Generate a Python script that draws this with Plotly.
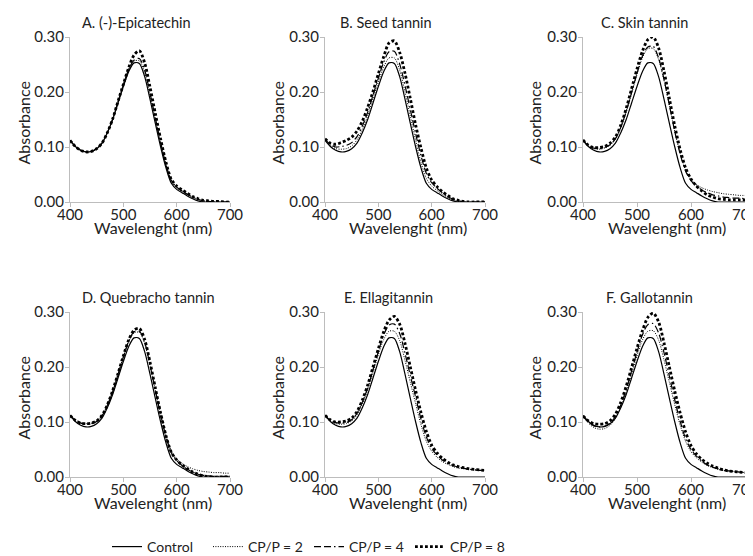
import plotly.graph_objects as go

# ---------------- data ----------------
WAVELENGTH = [400, 410, 420, 430, 440, 450, 460, 470, 480, 490, 500, 510, 520, 530, 540, 550,
              560, 570, 580, 590, 600, 610, 620, 630, 640, 650, 660, 670, 680, 690, 700]

PANEL_TITLES = ["A. (-)-Epicatechin", "B. Seed tannin", "C. Skin tannin",
                "D. Quebracho tannin", "E. Ellagitannin", "F. Gallotannin"]
SERIES_NAMES = ["Control", "CP/P = 2", "CP/P = 4", "CP/P = 8"]
X_TICKS = [400, 500, 600, 700]
Y_TICKS = [0.0, 0.1, 0.2, 0.3]

CONTROL = [.112, .101, .094, .091, .092, .097, .107, .126, .150, .180, .210, .237, .253, .252, .228, .187,
           .143, .100, .062, .034, .023, .017, .011, .006, .002, 0, 0, 0, 0, 0, 0]

A_P2 = [.112, .101, .094, .091, .092, .097, .107, .126, .151, .182, .213, .240, .256, .257, .235, .194,
        .150, .106, .067, .038, .026, .019, .013, .008, .004, .002, .001, 0, 0, 0, 0]
A_P4 = [.112, .101, .094, .091, .092, .097, .107, .126, .151, .182, .213, .241, .258, .261, .240, .198,
        .153, .108, .068, .039, .027, .020, .014, .009, .005, .002, .001, 0, 0, 0, 0]
A_P8 = [.112, .101, .094, .091, .092, .097, .107, .126, .151, .183, .214, .244, .267, .275, .253, .209,
        .161, .114, .072, .041, .029, .022, .016, .010, .006, .003, .002, .001, .001, 0, 0]

B_P2 = [.113, .103, .097, .096, .097, .102, .113, .132, .157, .188, .218, .245, .262, .262, .240, .200,
        .156, .112, .072, .043, .029, .021, .014, .008, .004, .001, 0, 0, 0, 0, 0]
B_P4 = [.114, .105, .100, .101, .103, .108, .119, .138, .163, .194, .225, .254, .273, .274, .251, .212,
        .168, .124, .084, .052, .035, .025, .017, .010, .005, .002, .001, 0, 0, 0, 0]
B_P8 = [.115, .107, .105, .108, .112, .118, .129, .147, .172, .201, .233, .264, .289, .293, .272, .234,
        .188, .140, .098, .062, .040, .028, .019, .012, .006, .003, .001, 0, 0, 0, 0]

C_P2 = [.112, .102, .097, .096, .098, .103, .114, .135, .163, .197, .232, .262, .279, .279, .259, .221,
        .175, .128, .088, .058, .041, .032, .026, .022, .019, .017, .015, .014, .013, .012, .012]
C_P4 = [.112, .102, .098, .097, .099, .104, .115, .136, .165, .199, .234, .265, .282, .283, .262, .223,
        .176, .128, .087, .056, .039, .029, .022, .017, .013, .011, .009, .008, .007, .007, .006]
C_P8 = [.113, .103, .099, .099, .101, .107, .118, .140, .170, .206, .242, .274, .295, .300, .280, .238,
        .188, .138, .095, .062, .042, .029, .020, .013, .009, .006, .005, .004, .004, .004, .004]

D_P2 = [.113, .104, .099, .097, .098, .102, .112, .131, .156, .187, .218, .246, .262, .263, .243, .203,
        .158, .115, .076, .047, .033, .025, .019, .015, .012, .010, .009, .008, .008, .007, .007]
D_P4 = [.112, .103, .098, .096, .097, .101, .111, .130, .155, .186, .218, .247, .264, .265, .245, .204,
        .158, .113, .073, .044, .030, .021, .014, .009, .005, .003, .002, .001, .001, .001, .001]
D_P8 = [.112, .103, .098, .097, .098, .102, .112, .131, .157, .188, .220, .249, .267, .270, .250, .209,
        .162, .116, .075, .045, .031, .022, .015, .009, .005, .002, .001, 0, 0, 0, 0]

E_P2 = [.112, .102, .097, .096, .097, .102, .113, .133, .158, .190, .222, .250, .265, .265, .248, .212,
        .172, .133, .095, .065, .047, .036, .028, .023, .019, .016, .015, .014, .013, .012, .012]
E_P4 = [.112, .103, .099, .098, .099, .104, .116, .136, .162, .195, .228, .258, .276, .278, .261, .225,
        .184, .145, .105, .073, .052, .040, .031, .025, .021, .018, .016, .014, .013, .012, .012]
E_P8 = [.112, .104, .100, .100, .102, .107, .119, .140, .167, .200, .233, .264, .285, .292, .278, .243,
        .200, .157, .117, .083, .058, .044, .034, .027, .022, .019, .017, .015, .014, .013, .012]

F_P2 = [.110, .098, .090, .087, .088, .094, .106, .127, .154, .187, .220, .249, .265, .266, .249, .213,
        .172, .131, .094, .065, .046, .035, .027, .021, .017, .014, .012, .011, .010, .009, .008]
F_P4 = [.111, .100, .093, .091, .092, .098, .110, .131, .159, .193, .227, .258, .277, .279, .262, .226,
        .183, .140, .101, .070, .050, .038, .029, .022, .018, .015, .012, .011, .010, .009, .008]
F_P8 = [.111, .102, .097, .096, .097, .102, .114, .136, .165, .199, .234, .266, .290, .298, .282, .244,
        .200, .156, .116, .082, .057, .042, .032, .025, .020, .016, .013, .011, .010, .009, .008]

PANELS = [
    [CONTROL, A_P2, A_P4, A_P8],
    [CONTROL, B_P2, B_P4, B_P8],
    [CONTROL, C_P2, C_P4, C_P8],
    [CONTROL, D_P2, D_P4, D_P8],
    [CONTROL, E_P2, E_P4, E_P8],
    [CONTROL, F_P2, F_P4, F_P8],
]

# ---------------- layout helpers ----------------
OFF = 8                      # page body margin of the browser
W, H = 753 - OFF, 556 - OFF  # figure size so it ends at the window edge
FONT = "Lato, 'Open Sans', sans-serif"
TXT = "#222222"
AXC = "#bdbdbd"

# plot-area pixel boxes in window coordinates (left, right, top, bottom)
COLS = [(70, 230), (325, 485), (583, 745)]
ROWS = [(37, 202), (312, 477)]
TITLE_POS = [(136, 22), (386, 22), (644, 22), (148, 297), (388, 297), (649, 297)]
YTITLE_X = [23, 277, 534]

STYLES = [
    dict(color="black", width=1.2, dash="solid"),
    dict(color="black", width=1.0, dash="1px,1.4px"),
    dict(color="black", width=1.2, dash="7px,3px,7px,3px,1.5px,3px"),
    dict(color="black", width=2.8, dash="2.8px,2.2px"),
]

def px(x):
    return (x - OFF) / W

def py(y):
    return 1 - (y - OFF) / H

fig = go.Figure()
annotations = []
layout = {}

for i, series in enumerate(PANELS):
    r, c = divmod(i, 3)
    ax = "" if i == 0 else str(i + 1)
    xl, xr = COLS[c]
    yt, yb = ROWS[r]
    for k, vals in enumerate(series):
        fig.add_trace(go.Scatter(
            x=WAVELENGTH, y=vals, mode="lines", name=SERIES_NAMES[k],
            line=dict(shape="spline", smoothing=0.8, **STYLES[k]),
            xaxis="x" + ax, yaxis="y" + ax, showlegend=(i == 0),
            legendgroup=SERIES_NAMES[k], hoverinfo="skip"))
    layout["xaxis" + ax] = dict(
        domain=[px(xl), min(px(xr), 1.0)], anchor="y" + ax, range=[400, 700], automargin=False,
        tickvals=X_TICKS, ticktext=[str(v) for v in X_TICKS], ticklabeloverflow="allow",
        showline=True, linecolor=AXC, linewidth=1, ticks="outside", ticklen=4,
        tickcolor=AXC, showgrid=False, zeroline=False, ticklabelstandoff=-5,
        tickfont=dict(size=15, color=TXT, family=FONT))
    layout["yaxis" + ax] = dict(
        domain=[py(yb), py(yt)], anchor="x" + ax, range=[0, 0.30], automargin=False,
        tickvals=Y_TICKS, ticktext=["%.2f" % v for v in Y_TICKS],
        showline=True, linecolor=AXC, linewidth=1, ticks="outside", ticklen=4,
        tickcolor=AXC, showgrid=False, zeroline=False, ticklabelstandoff=-2,
        tickfont=dict(size=15, color=TXT, family=FONT))
    tx, ty = TITLE_POS[i]
    annotations.append(dict(text=PANEL_TITLES[i], x=px(tx), y=py(ty), xref="paper", yref="paper",
                            showarrow=False, xanchor="center", yanchor="middle",
                            font=dict(size=14.5, color=TXT, family=FONT)))
    annotations.append(dict(text="Absorbance", x=px(YTITLE_X[c]), y=py((yt + yb) / 2 + 4),
                            xref="paper", yref="paper", textangle=-90, showarrow=False,
                            xanchor="center", yanchor="middle",
                            font=dict(size=16, color=TXT, family=FONT)))
    annotations.append(dict(text="Wavelenght (nm)", x=px((xl + xr) / 2 + 3), y=py(yb + 25),
                            xref="paper", yref="paper", showarrow=False,
                            xanchor="center", yanchor="middle",
                            font=dict(size=16, color=TXT, family=FONT)))

fig.update_layout(
    width=W, height=H, margin=dict(l=0, r=0, t=0, b=0, autoexpand=False),
    paper_bgcolor="white", plot_bgcolor="white",
    font=dict(family=FONT, color=TXT),
    annotations=annotations,
    showlegend=True,
    legend=dict(orientation="h", x=px(107), xanchor="left", y=py(547), yanchor="middle",
                font=dict(size=14, color=TXT, family=FONT), entrywidth=56,
                entrywidthmode="pixels", bgcolor="rgba(0,0,0,0)", tracegroupgap=0),
    **layout,
)

fig.write_html("out.html")
